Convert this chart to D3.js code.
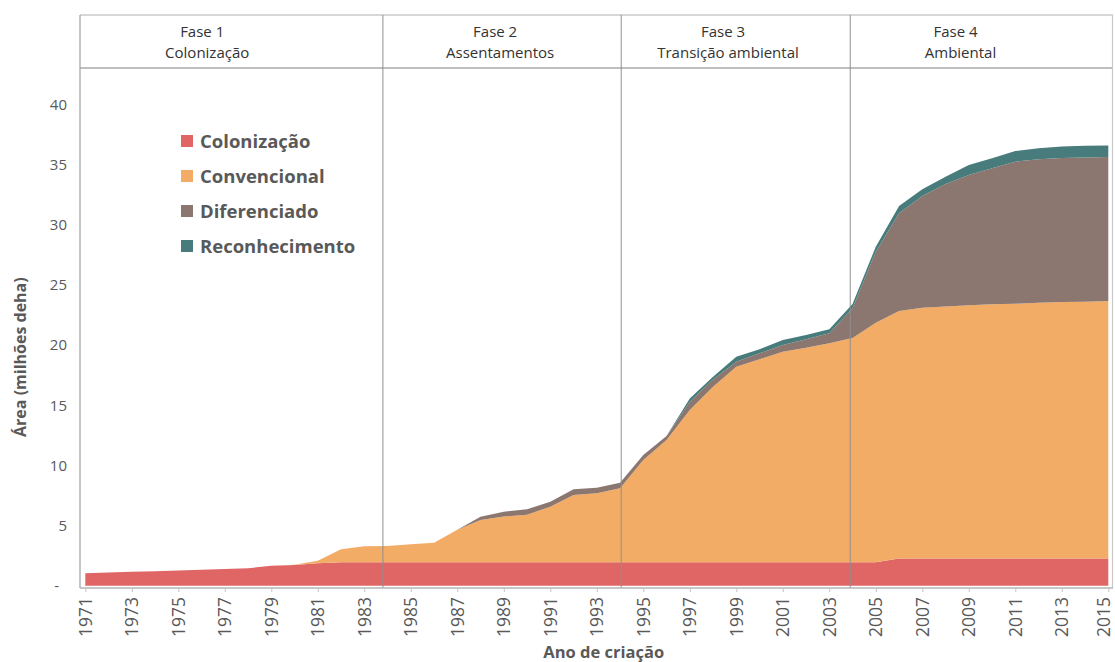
<!DOCTYPE html>
<html>
<head>
<meta charset="utf-8">
<script src="https://cdn.jsdelivr.net/npm/d3@7"></script>
<style>
body { margin: 0; background: #fff; }
svg { font-family: "Open Sans", sans-serif; }
</style>
</head>
<body>
<svg id="chart" width="1115" height="662"></svg>
<script>
// years on the x axis
var years = d3.range(1971, 2016);

// area by type (millions of ha)
var colonizacao = [1.03, 1.09, 1.15, 1.21, 1.27, 1.33, 1.39, 1.45, 1.66, 1.72,
    1.86, 1.94, 1.94, 1.94, 1.94, 1.94, 1.94, 1.94, 1.94, 1.94,
    1.94, 1.94, 1.94, 1.94, 1.94, 1.94, 1.94, 1.94, 1.94, 1.94,
    1.94, 1.94, 1.94, 1.94, 1.94, 2.27, 2.27, 2.27, 2.27, 2.27,
    2.27, 2.27, 2.27, 2.27, 2.27];
var convencional = [0, 0, 0, 0, 0, 0, 0, 0, 0, 0.02,
    0.22, 1.08, 1.34, 1.36, 1.50, 1.64, 2.72, 3.52, 3.81, 3.96,
    4.63, 5.60, 5.74, 6.16, 8.51, 10.17, 12.66, 14.60, 16.26, 16.88,
    17.51, 17.85, 18.21, 18.66, 19.92, 20.56, 20.84, 20.93, 21.04, 21.12,
    21.17, 21.26, 21.31, 21.34, 21.40];
var diferenciado = [0, 0, 0, 0, 0, 0, 0, 0, 0, 0,
    0, 0, 0, 0, 0, 0, 0, 0.28, 0.40, 0.45,
    0.41, 0.47, 0.47, 0.46, 0.41, 0.33, 0.70, 0.61, 0.42, 0.50,
    0.55, 0.69, 0.83, 2.46, 5.91, 8.13, 9.28, 10.19, 10.83, 11.31,
    11.81, 11.91, 11.97, 11.99, 11.96];
var reconhecimento = [0, 0, 0, 0, 0, 0, 0, 0, 0, 0,
    0, 0, 0, 0, 0, 0, 0, 0, 0, 0,
    0, 0, 0, 0, 0, 0, 0.27, 0.22, 0.41, 0.33,
    0.42, 0.36, 0.33, 0.36, 0.41, 0.60, 0.56, 0.61, 0.83, 0.83,
    0.88, 0.92, 0.95, 0.98, 0.97];

var seriesNames = ["Colonização", "Convencional", "Diferenciado", "Reconhecimento"];
var seriesColors = ["#e06565", "#f2ac66", "#8b7770", "#487b7b"];

var yTicks = [0, 5, 10, 15, 20, 25, 30, 35, 40];
var xTicks = d3.range(1971, 2016, 2);

// phases shown in the header band
var phaseNames = ["Fase 1", "Fase 2", "Fase 3", "Fase 4"];
var phaseTitles = ["Colonização", "Assentamentos", "Transição ambiental", "Ambiental"];
var phaseBreaks = [1983.8, 1994.05, 2003.9];
var phaseLabelAt = [1976.2, 1988.8, 1998.6, 2008.6];

function drawChart() {
    var svg = d3.select("#chart");
    var left = 80, right = 1112, headTop = 15, headBottom = 68, axisY = 588;

    var x = d3.scaleLinear().domain([1971, 2015]).range([85.3, 1108.3]);
    var y = d3.scaleLinear().domain([0, 40]).range([585.7, 104.5]);

    var rows = years.map(function(yr, i) {
        return {
            year: yr,
            "Colonização": colonizacao[i],
            "Convencional": convencional[i],
            "Diferenciado": diferenciado[i],
            "Reconhecimento": reconhecimento[i]
        };
    });
    var stacked = d3.stack().keys(seriesNames)(rows);

    var area = d3.area()
        .x(function(d) { return x(d.data.year); })
        .y0(function(d) { return y(d[0]); })
        .y1(function(d) { return y(d[1]); });

    svg.append("g").selectAll("path").data(stacked).enter()
        .append("path")
        .attr("d", area)
        .attr("fill", function(d, i) { return seriesColors[i]; });

    // header band
    svg.append("line").attr("x1", left).attr("x2", right + 1).attr("y1", headTop).attr("y2", headTop)
        .attr("stroke", "#b0b0b0").attr("stroke-width", 1.2);
    svg.append("line").attr("x1", left).attr("x2", right + 1).attr("y1", headBottom).attr("y2", headBottom)
        .attr("stroke", "#a8a8a8").attr("stroke-width", 1.5);

    // phase dividers
    svg.append("g").selectAll("line").data(phaseBreaks).enter()
        .append("line")
        .attr("x1", function(d) { return x(d); })
        .attr("x2", function(d) { return x(d); })
        .attr("y1", headTop)
        .attr("y2", axisY)
        .attr("stroke", "#8f8f8f")
        .attr("stroke-width", 1);

    // frame sides
    svg.append("line").attr("x1", left).attr("x2", left).attr("y1", headTop).attr("y2", axisY)
        .attr("stroke", "#a0a0a0").attr("stroke-width", 1.2);
    svg.append("line").attr("x1", right + 0.5).attr("x2", right + 0.5).attr("y1", headTop).attr("y2", axisY)
        .attr("stroke", "#c8c8c8").attr("stroke-width", 1.2);

    var head = svg.append("g").attr("fill", "#333").attr("font-size", 15).attr("text-anchor", "middle");
    head.selectAll("text.phase").data(phaseNames).enter()
        .append("text").attr("class", "phase")
        .attr("x", function(d, i) { return x(phaseLabelAt[i]) - 4; })
        .attr("y", 37)
        .text(function(d) { return d; });
    head.selectAll("text.title").data(phaseTitles).enter()
        .append("text").attr("class", "title")
        .attr("x", function(d, i) { return x(phaseLabelAt[i]) + 1; })
        .attr("y", 58)
        .text(function(d) { return d; });

    // x axis
    var xAxis = svg.append("g").attr("transform", "translate(0," + axisY + ")")
        .call(d3.axisBottom(x).tickValues(xTicks).tickFormat(d3.format("d")).tickSize(4).tickSizeOuter(0));
    xAxis.select(".domain").attr("stroke", "#b5b5b5").attr("stroke-width", 1.5)
        .attr("d", "M" + left + ",0H" + (right + 1));
    xAxis.selectAll(".tick line").attr("stroke", "#c4c4c4");
    xAxis.selectAll(".tick text")
        .attr("fill", "#595959")
        .attr("font-size", 17.5)
        .attr("font-family", "Open Sans, sans-serif")
        .attr("text-anchor", "end")
        .attr("transform", "rotate(-90)")
        .attr("x", -9)
        .attr("y", 0)
        .attr("dy", "0.34em");
    // keep the last year inside the page
    xAxis.selectAll(".tick text").filter(function(d) { return d === 2015; }).attr("y", -5);

    // y axis
    var yAxis = svg.append("g").attr("transform", "translate(" + left + ",0)")
        .call(d3.axisLeft(y).tickValues(yTicks).tickSize(0).tickPadding(13)
            .tickFormat(function(d) { return d === 0 ? "-" : d; }));
    yAxis.select(".domain").remove();
    yAxis.selectAll(".tick text")
        .attr("fill", "#595959")
        .attr("font-size", 15)
        .attr("font-family", "Open Sans, sans-serif");
    yAxis.selectAll(".tick text").filter(function(d) { return d === 0; }).attr("dx", -8);

    svg.append("text")
        .attr("transform", "translate(26," + y(19) + ") rotate(-90)")
        .attr("text-anchor", "middle")
        .attr("fill", "#595959")
        .attr("font-size", 16)
        .attr("font-weight", 700)
        .text("Área (milhões deha)");

    svg.append("text")
        .attr("x", x(1993.3))
        .attr("y", 658)
        .attr("text-anchor", "middle")
        .attr("fill", "#595959")
        .attr("font-size", 16.5)
        .attr("font-weight", 700)
        .text("Ano de criação");

    // legend
    var legend = svg.append("g").selectAll("g").data(seriesNames).enter()
        .append("g")
        .attr("transform", function(d, i) { return "translate(181," + (141 + i * 35) + ")"; });
    legend.append("rect")
        .attr("x", 0).attr("y", -6).attr("width", 12).attr("height", 12)
        .attr("fill", function(d, i) { return seriesColors[i]; });
    legend.append("text")
        .attr("x", 19).attr("dy", "0.36em")
        .attr("fill", "#595959")
        .attr("font-size", 18.5)
        .attr("font-weight", 700)
        .text(function(d) { return d; });
}

drawChart();
</script>
</body>
</html>
